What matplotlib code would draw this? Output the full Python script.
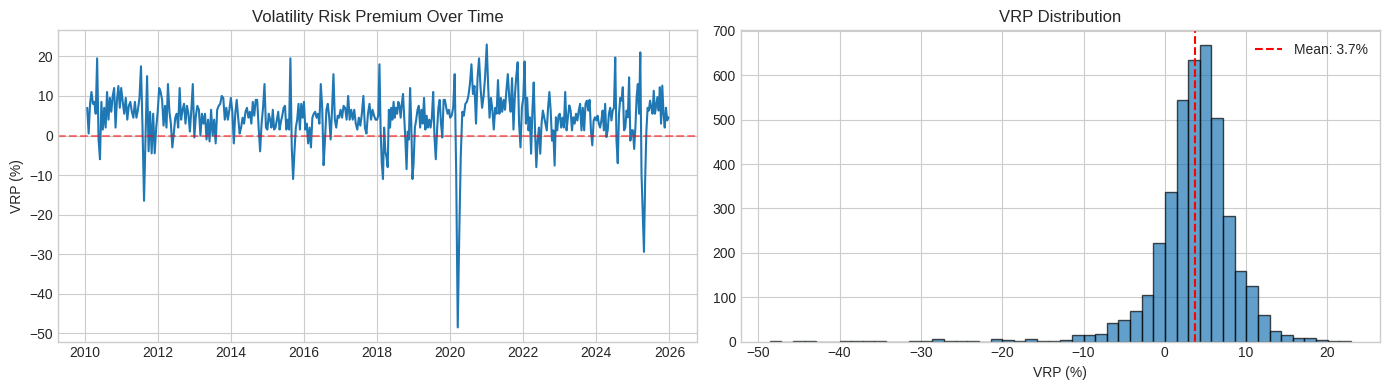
import numpy as np
import matplotlib
matplotlib.use("Agg")
import matplotlib.pyplot as plt

# ---- Time series values (VRP, %), by year ----
vrp_2010 = [7, 0.5, 8, 11, 8, 8.5, 5.5, 19.5, -1, -6, 8.5, 1.5, 7, 2, 11, 4, 9.5, 6, 10, 12, 2, 9, 12.5, 7]
vrp_2011 = [12, 8.5, 5.5, 9.5, 4, 7.5, 8.5, 6, 4.5, 8.5, 4.5, 6.5, 9.5, 17.5, 2, -16.5, 0, 15, -4, 6, -4.5, 5.5, -4.5, 2]
vrp_2012 = [6, 12, 11, 9, 2.5, 7.5, 2, 13, 6, 3, -3, 0.5, 4.5, 5.5, 2, 12, 4, 6.5, 8, 3, 7.5, 5.5, 1, 6.5, 13]
vrp_2013 = [-0.5, 5, 7.5, 6.5, 0, 5.5, 3, 5.5, -1, 4, -1.5, 6.5, 0, 4, -2, 6.5, 7.5, 8, 10, 9.5, 4, 7, 4, 6.5]
vrp_2014 = [9.5, 6, -2, 5.5, 9, 4.5, 0.5, 2, 4.5, 3, 6, 7, 4.5, 6, 3, 8.5, 5, 9, 9, 2, -4, 3, 7, 13, 2]
vrp_2015 = [1.5, 5.5, 4, 2, 6.5, 1.5, 2, 4, 6, 1.5, 3.5, 5, 7, 7.5, 1.5, 4, 1.5, 19.5, -3, -11, -4, 2, 4, 8, 1.5, 8, 4.5]
vrp_2016 = [8.5, 1.5, 3, -2, 2, -3, 4.5, 5.5, 6, 4.5, 5.5, 3, 13, 7, -7.5, -1, 6.5, 8, 4.5, -1, 6.5, 15.5, 4, 2, 5, 4.5]
vrp_2017 = [6.5, 4.5, 7.5, 7, 4, 10, 4, 6.5, 4, 6.5, 3, 1.5, 4.5, 2.5, 5.5, 10, 2, 0.5, 5.5, 8, 4, 6.5, 5, 4]
vrp_2018 = [4, 5, 18, 1.5, -7, -11, 2, -4, -5.5, -8, 6.5, 2, 7, 4, 8.5, 4.5, 7, 5.5, 8.5, 7.5, 4.5, 8, 10.5, 5, -1, -8.5, 1, -1, 12, 3, -11]
vrp_2019 = [-7, 2, 4, 6.5, 7.5, 2, 6.5, 3, 9.5, 1.5, 5, 2, 4, 2, 4.5, 11, -0.5, -6, 1.5, 7, 9, 3, -0.5, 9, 9, 7, 5.5, 6.5]
vrp_2020 = [4.5, 5, 7, 15.5, -10, -48.5, -25, -5, 6, 5, 8, 8.5, 10, 13, 18, 10.5, 12.5, 3, 14.5, 19.5, 12, 7, 10, 15]
vrp_2021 = [23, 12.5, 4.5, 9.5, 6.5, 1.5, 7, 5.5, 14, 5.5, 9.5, 6, 9, 6.5, 11.5, 15.5, 9.5, 6, 14.5, 1.5, 10, 15, 18.5, 3, -3, 7]
vrp_2022 = [9.5, 18.7, 3, 9.5, 1.3, 4.6, -4.6, 6.3, 13.4, 1.3, -8, -1.3, 2, -4.6, 3, 6.3, 4.6, 3, 1.3, 7, 11, 6.3, -1.3, 1.3, -7.6, 4.6, 1.3, 5]
vrp_2023 = [5.5, 2, 4.5, 2, 11, 1.3, 4.6, 7.6, 6.3, 1.3, 4.6, 3, 5.5, 3.8, 6.3, 8, 1.3, 7, 1.3, 8, 8.8, 6.3, 9, 1.3, -2.5, 3.8, 4.6]
vrp_2024 = [3.8, 5, 3, 2, 3.8, 6.3, 1.3, 8, -0.4, 1.3, 5.5, 7, 3.8, 6.3, 7, 19.7, -1.3, -7, 5.5, 9.5, 8.8, 12.2, 1.3, 2, 6.3, 4.6, 14.7, -1.3, 1.3]
vrp_2025 = [1.3, -3.4, 2, 9.7, 13, 5.5, 21, -9.7, -20, -29.4, -11, 1.3, 7, 6.3, 8.8, 7, 5.5, 11.3, 5.5, 7.6, 9.7, 6.3, 12.2, 3, 12.6, 5.5, 2, 7, 3.8, 4.6]

series_years = [2010, 2011, 2012, 2013, 2014, 2015, 2016, 2017,
                2018, 2019, 2020, 2021, 2022, 2023, 2024, 2025]
series_values = [vrp_2010, vrp_2011, vrp_2012, vrp_2013, vrp_2014, vrp_2015, vrp_2016, vrp_2017,
                 vrp_2018, vrp_2019, vrp_2020, vrp_2021, vrp_2022, vrp_2023, vrp_2024, vrp_2025]
first_year_start = 0.07   # fraction of 2010 at which the series starts
last_year_end = 0.97      # fraction of 2025 at which the series ends

# ---- Histogram (50 bins) counts ----
hist_lo, hist_hi = -48.6, 22.9
hist_counts = [1, 0, 1, 1, 0, 0, 1, 1, 1, 1,
               0, 0, 1, 1, 5, 1, 1, 1, 0, 5,
               3, 1, 5, 1, 1, 3, 15, 15, 17, 42,
               49, 69, 105, 223, 336, 545, 634, 668, 503, 284,
               160, 126, 60, 24, 15, 9, 9, 4, 1, 1]
mean_vrp = 3.7

# ---- Build date axis ----
dates_all, vals_all = [], []
for yr, vals in zip(series_years, series_values):
    n = len(vals)
    f0 = first_year_start if yr == series_years[0] else 0.0
    f1 = last_year_end if yr == series_years[-1] else 1.0
    frac = np.linspace(f0, f1, n, endpoint=(yr == series_years[-1]))
    d = np.datetime64(f"{yr}-01-01") + (frac * 365.25 * 86400).astype("timedelta64[s]")
    dates_all.extend(d.tolist())
    vals_all.extend(vals)
dates_all = np.array(dates_all, dtype="datetime64[s]")
vals_all = np.array(vals_all, dtype=float)

plt.style.use("seaborn-v0_8-whitegrid")
fig, (ax1, ax2) = plt.subplots(1, 2, figsize=(14, 4), dpi=100)

ax1.plot(dates_all, vals_all, color="#1f77b4", linewidth=1.5)
ax1.axhline(0, color="red", linestyle="--", alpha=0.5)
ax1.set_title("Volatility Risk Premium Over Time")
ax1.set_ylabel("VRP (%)")

edges = np.linspace(hist_lo, hist_hi, len(hist_counts) + 1)
centers = (edges[:-1] + edges[1:]) / 2
ax2.hist(centers, bins=edges, weights=hist_counts, color="#1f77b4",
         edgecolor="black", alpha=0.7)
ax2.axvline(mean_vrp, color="red", linestyle="--", linewidth=1.5,
            label=f"Mean: {mean_vrp:.1f}%")
ax2.set_title("VRP Distribution")
ax2.set_xlabel("VRP (%)")
ax2.legend(loc="upper right")

fig.tight_layout()
fig.savefig("out.png", dpi=100, bbox_inches="tight")
